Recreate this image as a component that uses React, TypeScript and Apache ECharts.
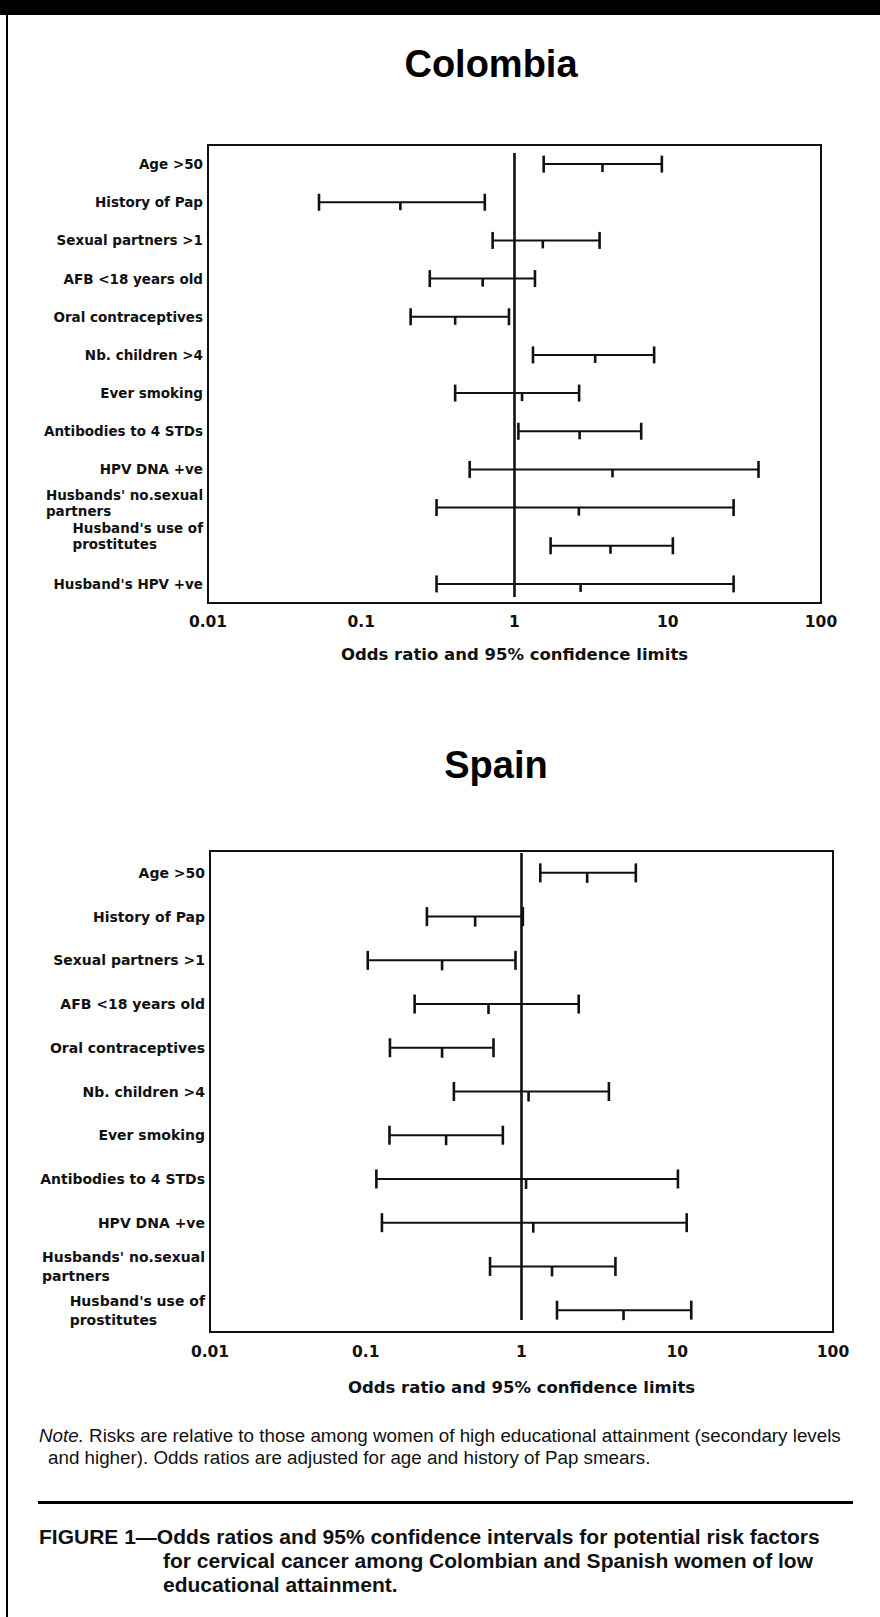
import React, { useEffect, useRef } from 'react';
import * as echarts from 'echarts';

// ---------- data ----------
const xTickLabels = ['0.01', '0.1', '1', '10', '100'];
const referenceOR = 1;

const colombiaFactors = [
  'Age >50',
  'History of Pap',
  'Sexual partners >1',
  'AFB <18 years old',
  'Oral contraceptives',
  'Nb. children >4',
  'Ever smoking',
  'Antibodies to 4 STDs',
  'HPV DNA +ve',
  "Husbands' no.sexual\npartners",
  "Husband's use of\nprostitutes",
  "Husband's HPV +ve",
];
const colombiaLow = [1.55, 0.053, 0.72, 0.28, 0.21, 1.32, 0.41, 1.06, 0.51, 0.31, 1.72, 0.31];
const colombiaOR = [3.75, 0.18, 1.53, 0.62, 0.41, 3.36, 1.12, 2.66, 4.36, 2.63, 4.23, 2.7];
const colombiaHigh = [9.15, 0.64, 3.59, 1.36, 0.92, 8.15, 2.64, 6.71, 39.1, 26.9, 10.8, 26.9];

const spainFactors = [
  'Age >50',
  'History of Pap',
  'Sexual partners >1',
  'AFB <18 years old',
  'Oral contraceptives',
  'Nb. children >4',
  'Ever smoking',
  'Antibodies to 4 STDs',
  'HPV DNA +ve',
  "Husbands' no.sexual\npartners",
  "Husband's use of\nprostitutes",
];
const spainLow = [1.32, 0.247, 0.103, 0.206, 0.143, 0.368, 0.142, 0.117, 0.127, 0.628, 1.69];
const spainOR = [2.64, 0.504, 0.309, 0.614, 0.309, 1.11, 0.328, 1.07, 1.19, 1.57, 4.52];
const spainHigh = [5.42, 1.02, 0.915, 2.33, 0.661, 3.64, 0.759, 10.1, 11.5, 4.01, 12.3];

const chartTitles = ['Colombia', 'Spain'];
const axisName = 'Odds ratio and 95% confidence limits';
const noteLine1 = ' Risks are relative to those among women of high educational attainment (secondary levels';
const noteLine2 = 'and higher). Odds ratios are adjusted for age and history of Pap smears.';
const captionLines = [
  'FIGURE 1\u2014Odds ratios and 95% confidence intervals for potential risk factors',
  'for cervical cancer among Colombian and Spanish women of low',
  'educational attainment.',
];

// ---------- styling ----------
const LABEL_FONT = 'DejaVu Sans';
const TEXT_FONT = 'Liberation Sans';
const INK = '#111';

function barRender(cap: number, tick: number) {
  return (params: any, api: any) => {
    const c = api.value(3);
    const lo = api.coord([api.value(0), c]);
    const md = api.coord([api.value(1), c]);
    const hi = api.coord([api.value(2), c]);
    const s = { stroke: INK, lineWidth: 2 };
    const sc = { stroke: INK, lineWidth: 2.6 };
    return {
      type: 'group',
      children: [
        { type: 'line', shape: { x1: lo[0], y1: lo[1], x2: hi[0], y2: hi[1] }, style: s },
        { type: 'line', shape: { x1: lo[0], y1: lo[1] - cap, x2: lo[0], y2: lo[1] + cap }, style: sc },
        { type: 'line', shape: { x1: hi[0], y1: hi[1] - cap, x2: hi[0], y2: hi[1] + cap }, style: sc },
        { type: 'line', shape: { x1: md[0], y1: md[1], x2: md[0], y2: md[1] + tick }, style: sc },
      ],
    };
  };
}

function refRender(insetTop: number, insetBottom: number) {
  return (params: any, api: any) => {
    const cs = params.coordSys;
    const x = api.coord([api.value(0), 0])[0];
    return {
      type: 'line',
      shape: { x1: x, y1: cs.y + insetTop, x2: x, y2: cs.y + cs.height - insetBottom },
      style: { stroke: INK, lineWidth: 2.6 },
    };
  };
}

function catData(labels: string[], pads: Record<number, number>) {
  return labels.map((v, i) =>
    pads[i] ? { value: v, textStyle: { padding: [0, 0, pads[i], 0] } } : v
  );
}

function labelFormatter(v: string) {
  if (v.indexOf('\n') >= 0) {
    return v
      .split('\n')
      .map((s) => '{l|' + s + '}')
      .join('\n');
  }
  return v;
}

function xAxisCfg(gridIndex: number, nameGap: number, labelMargin: number) {
  return {
    type: 'log',
    logBase: 10,
    gridIndex,
    min: 0.01,
    max: 100,
    name: axisName,
    nameLocation: 'middle',
    nameGap,
    nameTextStyle: { fontFamily: LABEL_FONT, fontWeight: 'bold', fontSize: 16.5, color: INK },
    axisLine: { show: true, lineStyle: { color: INK, width: 2 } },
    axisTick: { show: false },
    splitLine: { show: false },
    axisLabel: {
      margin: labelMargin,
      fontFamily: LABEL_FONT,
      fontWeight: 'bold',
      fontSize: 15.5,
      color: INK,
      formatter: (v: number, idx: number) => xTickLabels[idx] ?? String(v),
    },
  };
}

function yAxisCfg(gridIndex: number, labels: string[], pads: Record<number, number>, fontSize: number, lineHeight: number) {
  return {
    type: 'category',
    gridIndex,
    inverse: true,
    data: catData(labels, pads),
    axisLine: { show: true, lineStyle: { color: INK, width: 2 } },
    axisTick: { show: false },
    splitLine: { show: false },
    axisLabel: {
      margin: 5,
      interval: 0,
      fontFamily: LABEL_FONT,
      fontWeight: 'bold',
      fontSize,
      lineHeight,
      color: INK,
      formatter: labelFormatter,
      rich: {
        l: { align: 'left', fontFamily: LABEL_FONT, fontWeight: 'bold', fontSize, lineHeight, color: INK },
      },
    },
  };
}

export default function App() {
  const ref = useRef<HTMLDivElement>(null);

  useEffect(() => {
    if (!ref.current) return;
    const chart = echarts.init(ref.current, undefined, { renderer: 'svg' });

    const colData = colombiaFactors.map((_, i) => [colombiaLow[i], colombiaOR[i], colombiaHigh[i], i]);
    const spaData = spainFactors.map((_, i) => [spainLow[i], spainOR[i], spainHigh[i], i]);

    const option: any = {
      animation: false,
      backgroundColor: '#fff',
      grid: [
        { left: 208, top: 145, width: 613, height: 458, show: true, borderColor: INK, borderWidth: 2, backgroundColor: 'transparent' },
        { left: 210, top: 851, width: 623, height: 481, show: true, borderColor: INK, borderWidth: 2, backgroundColor: 'transparent' },
      ],
      xAxis: [xAxisCfg(0, 43, 11), xAxisCfg(1, 47, 12)],
      yAxis: [
        yAxisCfg(0, colombiaFactors, { 9: 9, 10: 20 }, 13.5, 16),
        yAxisCfg(1, spainFactors, {}, 14, 19),
      ],
      series: [
        {
          type: 'custom',
          coordinateSystem: 'cartesian2d',
          xAxisIndex: 0,
          yAxisIndex: 0,
          data: [[referenceOR, 0]],
          encode: { x: 0, y: 1 },
          renderItem: refRender(8, 6),
          clip: false,
          silent: true,
        },
        {
          type: 'custom',
          coordinateSystem: 'cartesian2d',
          xAxisIndex: 0,
          yAxisIndex: 0,
          data: colData,
          encode: { x: [0, 1, 2], y: 3 },
          renderItem: barRender(8.5, 8),
          clip: false,
          silent: true,
        },
        {
          type: 'custom',
          coordinateSystem: 'cartesian2d',
          xAxisIndex: 1,
          yAxisIndex: 1,
          data: [[referenceOR, 0]],
          encode: { x: 0, y: 1 },
          renderItem: refRender(2, 12),
          clip: false,
          silent: true,
        },
        {
          type: 'custom',
          coordinateSystem: 'cartesian2d',
          xAxisIndex: 1,
          yAxisIndex: 1,
          data: spaData,
          encode: { x: [0, 1, 2], y: 3 },
          renderItem: barRender(9.5, 10),
          clip: false,
          silent: true,
        },
      ],
      graphic: [
        { type: 'rect', shape: { x: 0, y: 0, width: 880, height: 15 }, style: { fill: '#000' } },
        { type: 'rect', shape: { x: 6, y: 0, width: 2, height: 1617 }, style: { fill: '#000' } },
        {
          type: 'text',
          style: {
            text: chartTitles[0], x: 491, y: 64, align: 'center', verticalAlign: 'middle',
            fontFamily: TEXT_FONT, fontWeight: 'bold', fontSize: 38, fill: '#000',
          },
        },
        {
          type: 'text',
          style: {
            text: chartTitles[1], x: 496, y: 765, align: 'center', verticalAlign: 'middle',
            fontFamily: TEXT_FONT, fontWeight: 'bold', fontSize: 38, fill: '#000',
          },
        },
        {
          type: 'text',
          style: {
            text: '{i|Note.}' + noteLine1, x: 39, y: 1435, verticalAlign: 'middle',
            fontFamily: TEXT_FONT, fontSize: 18.8, fill: INK,
            rich: { i: { fontStyle: 'italic', fontFamily: TEXT_FONT, fontSize: 18.8, fill: INK } },
          },
        },
        {
          type: 'text',
          style: {
            text: noteLine2, x: 48, y: 1457, verticalAlign: 'middle',
            fontFamily: TEXT_FONT, fontSize: 18.8, fill: INK,
          },
        },
        { type: 'rect', shape: { x: 38, y: 1501, width: 815, height: 3 }, style: { fill: '#000' } },
        {
          type: 'text',
          style: {
            text: captionLines[0], x: 39, y: 1536, verticalAlign: 'middle',
            fontFamily: TEXT_FONT, fontWeight: 'bold', fontSize: 21, fill: INK,
          },
        },
        {
          type: 'text',
          style: {
            text: captionLines[1], x: 163, y: 1560, verticalAlign: 'middle',
            fontFamily: TEXT_FONT, fontWeight: 'bold', fontSize: 21, fill: INK,
          },
        },
        {
          type: 'text',
          style: {
            text: captionLines[2], x: 163, y: 1584, verticalAlign: 'middle',
            fontFamily: TEXT_FONT, fontWeight: 'bold', fontSize: 21, fill: INK,
          },
        },
      ],
    };

    chart.setOption(option);
    return () => chart.dispose();
  }, []);

  return (
    <div
      ref={ref}
      style={{ position: 'absolute', left: 0, top: 0, width: 880, height: 1617, background: '#fff' }}
    />
  );
}
